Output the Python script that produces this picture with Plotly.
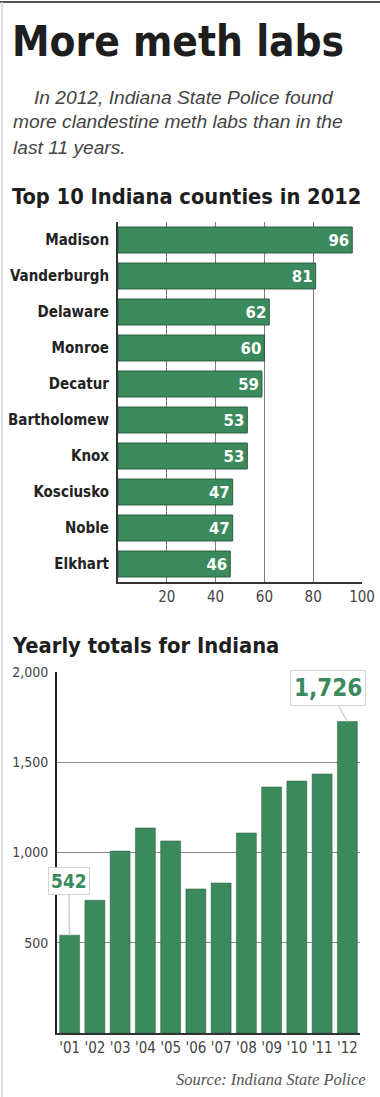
import plotly.graph_objects as go

# ---- data ----
counties = ["Madison", "Vanderburgh", "Delaware", "Monroe", "Decatur",
            "Bartholomew", "Knox", "Kosciusko", "Noble", "Elkhart"]
county_labs = [96, 81, 62, 60, 59, 53, 53, 47, 47, 46]

years = ["'01", "'02", "'03", "'04", "'05", "'06", "'07", "'08", "'09", "'10", "'11", "'12"]
yearly_labs = [542, 735, 1008, 1136, 1064, 798, 831, 1108, 1363, 1396, 1435, 1726]

county_ticks = [20, 40, 60, 80, 100]
yearly_ticks = [500, 1000, 1500, 2000]

W, H = 380, 1097
GREEN = "#3b8a5d"
COND = "DejaVu Sans Condensed, sans-serif"
ITAL = "Liberation Sans, Arial, sans-serif"


def px(x):
    return x / W


def py(y):
    return 1 - y / H


fig = go.Figure()

fig.add_trace(go.Bar(
    x=county_labs, y=counties, orientation="h",
    marker=dict(color=GREEN, line=dict(color="#2c5a3f", width=1)),
    text=[str(v) for v in county_labs], textposition="inside",
    insidetextanchor="end",
    textfont=dict(family=COND, size=20, color="white", weight="bold"),
    xaxis="x", yaxis="y", hoverinfo="skip",
))

fig.add_trace(go.Bar(
    x=years, y=yearly_labs, width=0.79,
    marker=dict(color=GREEN, line=dict(color="#2c5a3f", width=0.5)),
    xaxis="x2", yaxis="y2", hoverinfo="skip",
))

fig.update_layout(
    width=W, height=H,
    margin=dict(l=0, r=0, t=0, b=0, pad=0),
    paper_bgcolor="white", plot_bgcolor="white",
    showlegend=False,
    bargap=0.28,
    xaxis=dict(domain=[px(118), px(362)], range=[0, 100], tickvals=county_ticks,
               showgrid=True, gridcolor="#7a7a7a", gridwidth=1,
               showline=True, linecolor="#333", linewidth=2,
               ticks="", zeroline=False, automargin=False,
               tickfont=dict(family=COND, size=15, color="#444"), anchor="y"),
    yaxis=dict(domain=[py(582), py(222)], type="category",
               categoryorder="array", categoryarray=counties,
               range=[9.5, -0.5], showline=True, linecolor="#333", linewidth=2,
               ticks="", ticklabelstandoff=4, automargin=False,
               tickfont=dict(family=COND, size=15, color="#222", weight="bold"),
               anchor="x"),
    xaxis2=dict(domain=[px(57), px(360)], type="category", range=[-0.5, 11.5],
                showline=True, linecolor="#333", linewidth=2, ticks="",
                automargin=False,
                tickfont=dict(family=COND, size=15, color="#444"), anchor="y2"),
    yaxis2=dict(domain=[py(1033), py(672)], range=[0, 2000], tickvals=yearly_ticks,
                tickformat=",", showgrid=True, gridcolor="#8a8a8a", gridwidth=1,
                showline=True, linecolor="#222", linewidth=2, ticks="",
                zeroline=False, ticklabelstandoff=4, automargin=False,
                tickfont=dict(family=COND, size=14, color="#444"), anchor="x2"),
)

annotations = [
    dict(text="<b>More meth labs</b>", x=px(10), y=py(42), xanchor="left", yanchor="middle",
         font=dict(family=COND, size=42, color="#1e1e1e")),
    dict(text="<i>In 2012, Indiana State Police found</i>", x=px(32), y=py(97),
         xanchor="left", yanchor="middle", font=dict(family=ITAL, size=19.2, color="#444")),
    dict(text="<i>more clandestine meth labs than in the</i>", x=px(11), y=py(122),
         xanchor="left", yanchor="middle", font=dict(family=ITAL, size=19.2, color="#444")),
    dict(text="<i>last 11 years.</i>", x=px(11), y=py(147),
         xanchor="left", yanchor="middle", font=dict(family=ITAL, size=19.2, color="#444")),
    dict(text="<b>Top 10 Indiana counties in 2012</b>", x=px(10), y=py(197),
         xanchor="left", yanchor="middle", font=dict(family=COND, size=21.7, color="#1e1e1e")),
    dict(text="<b>Yearly totals for Indiana</b>", x=px(10), y=py(645),
         xanchor="left", yanchor="middle", font=dict(family=COND, size=21.8, color="#1e1e1e")),
    dict(text="<i>Source: Indiana State Police</i>", x=px(368), y=py(1079),
         xanchor="right", yanchor="middle",
         font=dict(family="Liberation Serif, serif", size=16.5, color="#555")),
]
for a in annotations:
    a.update(xref="paper", yref="paper", showarrow=False)
    fig.add_annotation(**a)

# callouts
fig.add_annotation(x=years[-1], y=yearly_labs[-1], xref="x2", yref="y2",
                   text="<b>{:,}</b>".format(yearly_labs[-1]),
                   font=dict(family=COND, size=24, color=GREEN),
                   bgcolor="white", bordercolor="#d4d4d4", borderwidth=1, borderpad=3,
                   showarrow=True, arrowhead=0, arrowwidth=1.5, arrowcolor="#d0d0d0",
                   ax=-19, ay=-33)
fig.add_annotation(x=years[0], y=yearly_labs[0], xref="x2", yref="y2",
                   text="<b>{:,}</b>".format(yearly_labs[0]),
                   font=dict(family=COND, size=19, color=GREEN),
                   bgcolor="white", bordercolor="#d4d4d4", borderwidth=1, borderpad=2,
                   showarrow=True, arrowhead=0, arrowwidth=1.5, arrowcolor="#d0d0d0",
                   ax=-1, ay=-54)

# frame lines
fig.add_shape(type="line", xref="paper", yref="paper", x0=0, x1=1, y0=py(2), y1=py(2),
              line=dict(color="#555", width=2))
fig.add_shape(type="line", xref="paper", yref="paper", x0=px(2), x1=px(2), y0=0, y1=py(2),
              line=dict(color="#cfcfcf", width=1.5))

fig.write_html("out.html", config={"displayModeBar": False},
               post_script="document.body.style.margin='0';document.body.style.overflow='hidden';")
